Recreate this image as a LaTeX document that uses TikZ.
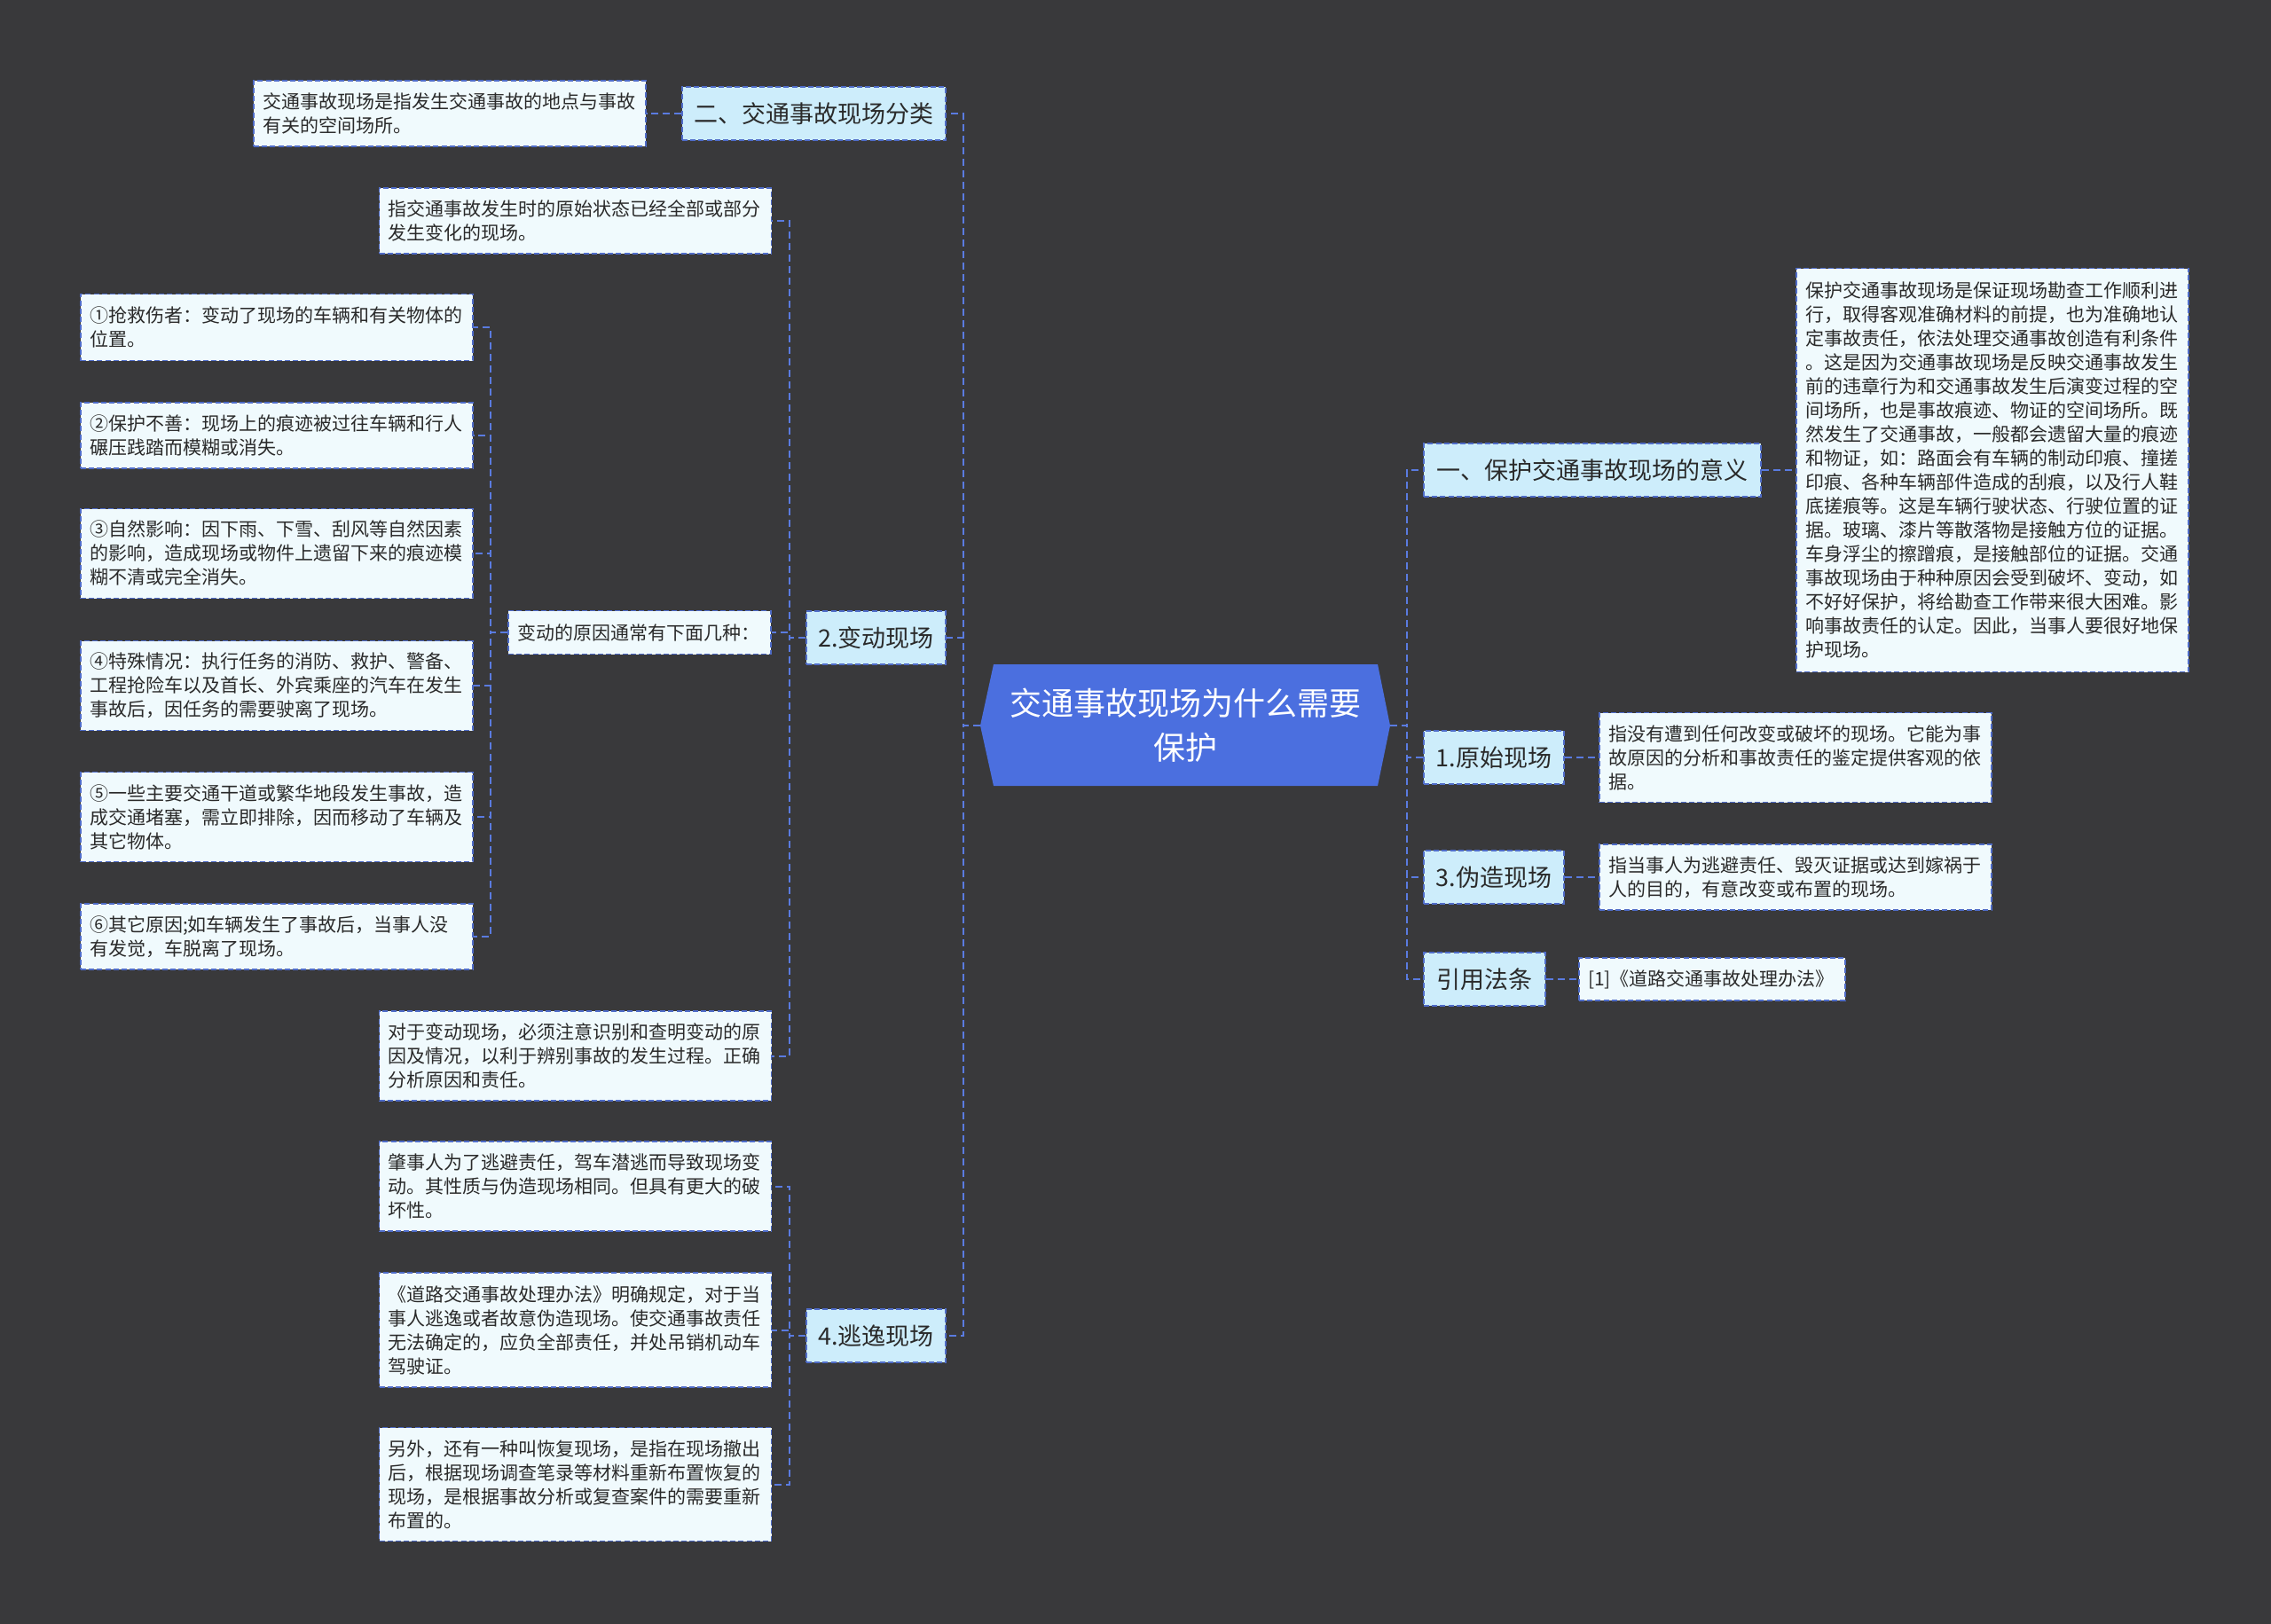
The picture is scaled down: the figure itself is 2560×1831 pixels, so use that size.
\documentclass[tikz,border=0pt]{standalone}
\usepackage{fontspec}
\newfontfamily\cjk{Noto Sans CJK SC}
\usetikzlibrary{calc}
\definecolor{bgc}{HTML}{39393B}
\definecolor{rootf}{HTML}{4B6FDF}
\definecolor{lvlf}{HTML}{CDEDFB}
\definecolor{leaff}{HTML}{F0FAFD}
\definecolor{bordc}{HTML}{4F6CC8}
\definecolor{connc}{HTML}{5A7BE0}
\definecolor{txtc}{HTML}{2A2A2A}
\tikzset{
  leaf/.style={draw=bordc, fill=leaff, dash pattern=on 3pt off 1.6pt, line width=0.8pt,
    font=\cjk\fontsize{10.5pt}{13.5pt}\selectfont, text=txtc, align=left,
    inner xsep=5pt, inner ysep=0pt, text width=211pt, anchor=center},
  lvl/.style={draw=bordc, fill=lvlf, dash pattern=on 3pt off 1.6pt, line width=0.8pt,
    font=\cjk\fontsize{13.5pt}{16pt}\selectfont, text=txtc, inner sep=0pt,
    minimum height=30pt, anchor=center},
  conn/.style={draw=connc, line width=1pt, dash pattern=on 4pt off 2.5pt},
}
\begin{document}
\begin{tikzpicture}[x=0.5pt,y=-0.5pt]
\fill[bgc] (0,0) rectangle (2560,1831);
\useasboundingbox (0,0) rectangle (2560,1831);

% root
\fill[rootf] (1120,749) -- (1553,749) -- (1567,818) -- (1553,886) -- (1120,886) -- (1105,818) -- cycle;
\node[font=\cjk\fontsize{18pt}{25pt}\selectfont, text=white, align=center, minimum width=231pt, minimum height=68.5pt, inner sep=0pt] (root) at (1336,818) {交通事故现场为什么需要\\保护};

% trunk coordinates
\coordinate (tL) at (1086,818);
\coordinate (tR) at (1586,818);
\coordinate (tB) at (890,719);
\coordinate (tC) at (553,713);
\coordinate (tE) at (890,1506);

% left level 1
\node[lvl, minimum width=148.5pt] (n2) at (917.5,128) {二、交通事故现场分类};
\node[lvl, minimum width=78.5pt] (nB) at (987.5,719) {2.变动现场};
\node[lvl, minimum width=78.5pt] (nE) at (987.5,1506) {4.逃逸现场};

% right level 1
\node[lvl, minimum width=190pt] (n1) at (1795,530) {一、保护交通事故现场的意义};
\node[lvl, minimum width=79pt] (nO) at (1684,854) {1.原始现场};
\node[lvl, minimum width=79pt] (nF) at (1684,989) {3.伪造现场};
\node[lvl, minimum width=68.5pt] (nY) at (1673.5,1104) {引用法条};

% left leaves
\node[leaf, minimum height=37pt] (a1) at (507,128) {交通事故现场是指发生交通事故的地点与事故\\有关的空间场所。};
\node[leaf, minimum height=37pt] (b1) at (648.5,249) {指交通事故发生时的原始状态已经全部或部分\\发生变化的现场。};
\node[leaf, text width=138pt, minimum height=24.5pt] (b2) at (721,713) {变动的原因通常有下面几种：};
\node[leaf, minimum height=50.5pt] (b3) at (648.5,1190.5) {对于变动现场，必须注意识别和查明变动的原\\因及情况，以利于辨别事故的发生过程。正确\\分析原因和责任。};

\node[leaf, minimum height=37.5pt] (c1) at (312,369) {①抢救伤者：变动了现场的车辆和有关物体的\\位置。};
\node[leaf, minimum height=37pt] (c2) at (312,491) {②保护不善：现场上的痕迹被过往车辆和行人\\碾压践踏而模糊或消失。};
\node[leaf, minimum height=50.5pt] (c3) at (312,624) {③自然影响：因下雨、下雪、刮风等自然因素\\的影响，造成现场或物件上遗留下来的痕迹模\\糊不清或完全消失。};
\node[leaf, minimum height=50.5pt] (c4) at (312,773) {④特殊情况：执行任务的消防、救护、警备、\\工程抢险车以及首长、外宾乘座的汽车在发生\\事故后，因任务的需要驶离了现场。};
\node[leaf, minimum height=50.5pt] (c5) at (312,921) {⑤一些主要交通干道或繁华地段发生事故，造\\成交通堵塞，需立即排除，因而移动了车辆及\\其它物体。};
\node[leaf, minimum height=37pt] (c6) at (312,1056) {⑥其它原因;如车辆发生了事故后，当事人没\\有发觉，车脱离了现场。};

\node[leaf, minimum height=50.5pt] (e1) at (648.5,1337.5) {肇事人为了逃避责任，驾车潜逃而导致现场变\\动。其性质与伪造现场相同。但具有更大的破\\坏性。};
\node[leaf, minimum height=64.5pt] (e2) at (648.5,1499.5) {《道路交通事故处理办法》明确规定，对于当\\事人逃逸或者故意伪造现场。使交通事故责任\\无法确定的，应负全部责任，并处吊销机动车\\驾驶证。};
\node[leaf, minimum height=64pt] (e3) at (648.5,1673.5) {另外，还有一种叫恢复现场，是指在现场撤出\\后，根据现场调查笔录等材料重新布置恢复的\\现场，是根据事故分析或复查案件的需要重新\\布置的。};

% right leaves
\node[leaf, minimum height=227.5pt] (r1) at (2246,530) {保护交通事故现场是保证现场勘查工作顺利进\\行，取得客观准确材料的前提，也为准确地认\\定事故责任，依法处理交通事故创造有利条件\\。这是因为交通事故现场是反映交通事故发生\\前的违章行为和交通事故发生后演变过程的空\\间场所，也是事故痕迹、物证的空间场所。既\\然发生了交通事故，一般都会遗留大量的痕迹\\和物证，如：路面会有车辆的制动印痕、撞搓\\印痕、各种车辆部件造成的刮痕，以及行人鞋\\底搓痕等。这是车辆行驶状态、行驶位置的证\\据。玻璃、漆片等散落物是接触方位的证据。\\车身浮尘的擦蹭痕，是接触部位的证据。交通\\事故现场由于种种原因会受到破坏、变动，如\\不好好保护，将给勘查工作带来很大困难。影\\响事故责任的认定。因此，当事人要很好地保\\护现场。};
\node[leaf, minimum height=50.5pt] (r2) at (2024,854) {指没有遭到任何改变或破坏的现场。它能为事\\故原因的分析和事故责任的鉴定提供客观的依\\据。};
\node[leaf, minimum height=37pt] (r3) at (2024,989) {指当事人为逃避责任、毁灭证据或达到嫁祸于\\人的目的，有意改变或布置的现场。};
\node[leaf, text width=140pt, minimum height=24pt] (r4) at (1930,1104) {[1]《道路交通事故处理办法》};

% connectors: root left
\foreach \c in {n2,nB,nE}
  \draw[conn] (root.west) -- (root.west -| tL) |- (\c.east);
% root right
\foreach \c in {n1,nO,nF,nY}
  \draw[conn] (root.east) -- (root.east -| tR) |- (\c.west);
% level 1 to leaves
\draw[conn] (n2.west) -- (a1.east);
\foreach \c in {b1,b2,b3}
  \draw[conn] (nB.west) -- (nB.west -| tB) |- (\c.east);
\foreach \c in {c1,c2,c3,c4,c5,c6}
  \draw[conn] (b2.west) -- (b2.west -| tC) |- (\c.east);
\foreach \c in {e1,e2,e3}
  \draw[conn] (nE.west) -- (nE.west -| tE) |- (\c.east);
\draw[conn] (n1.east) -- (r1.west);
\draw[conn] (nO.east) -- (r2.west);
\draw[conn] (nF.east) -- (r3.west);
\draw[conn] (nY.east) -- (r4.west);
\end{tikzpicture}
\end{document}
